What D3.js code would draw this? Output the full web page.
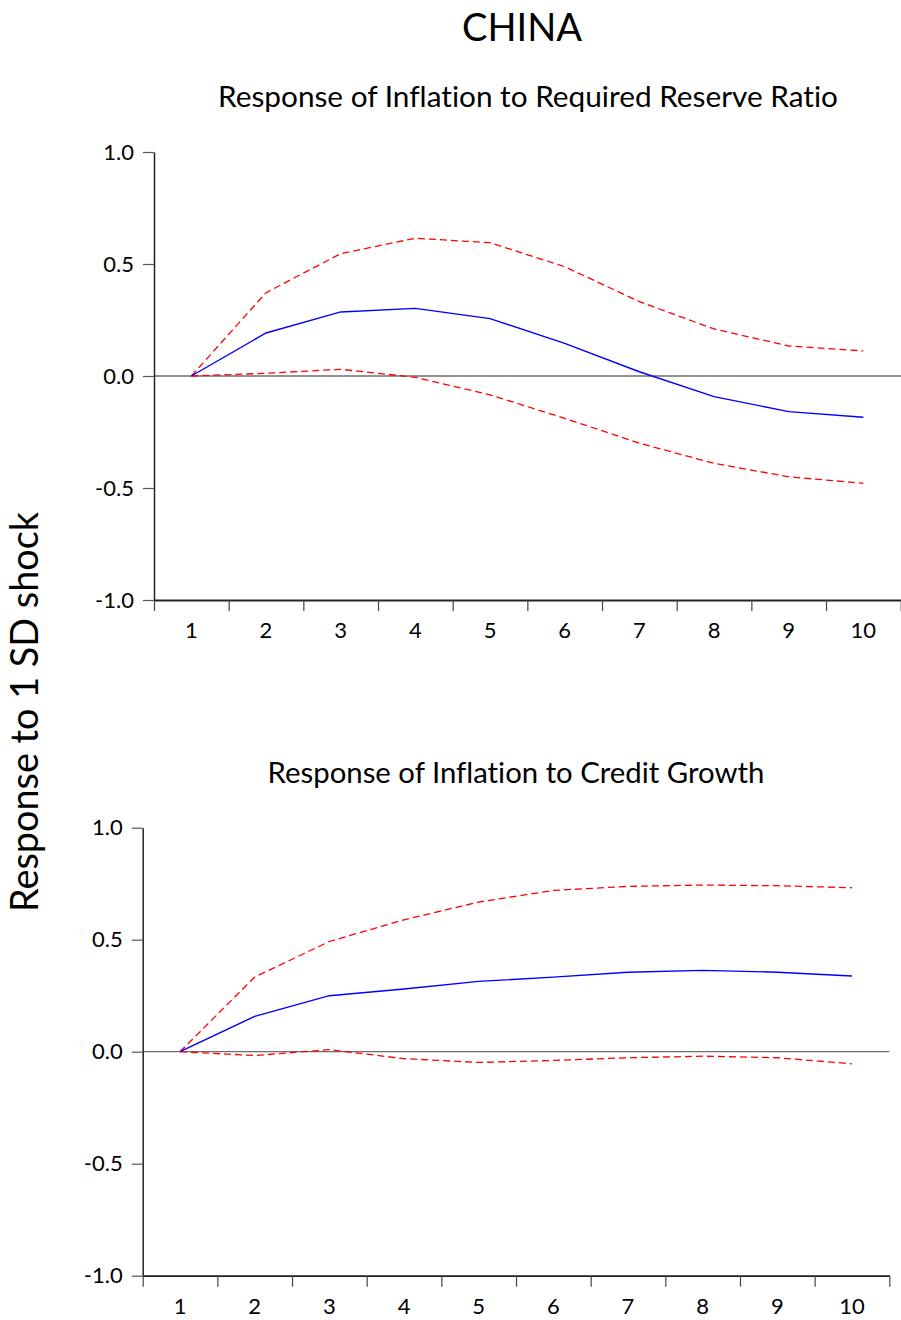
<!DOCTYPE html>
<html>
<head>
<meta charset="utf-8">
<script src="https://cdn.jsdelivr.net/npm/d3@7"></script>
<style>
  html, body { margin: 0; padding: 0; background: #fff; }
  svg { display: block; font-family: Lato, "Noto Sans", sans-serif; font-variant-ligatures: none; }
</style>
</head>
<body>
<svg id="chart" width="901" height="1320"></svg>
<script>
// Impulse response horizons
const periods = [1, 2, 3, 4, 5, 6, 7, 8, 9, 10];
const yTicks = [1.0, 0.5, 0.0, -0.5, -1.0];

// Response of inflation to required reserve ratio shock
const rrrResponse = [0.000, 0.192, 0.286, 0.302, 0.256, 0.146, 0.019, -0.092, -0.159, -0.184];
const rrrUpper    = [0.000, 0.372, 0.546, 0.615, 0.595, 0.488, 0.332, 0.210, 0.134, 0.112];
const rrrLower    = [0.000, 0.012, 0.030, -0.006, -0.084, -0.189, -0.300, -0.390, -0.450, -0.479];

// Response of inflation to credit growth shock
const creditResponse = [0.000, 0.158, 0.250, 0.280, 0.314, 0.333, 0.355, 0.363, 0.355, 0.338];
const creditUpper    = [0.000, 0.333, 0.492, 0.589, 0.668, 0.720, 0.738, 0.744, 0.741, 0.732];
const creditLower    = [0.000, -0.017, 0.009, -0.031, -0.048, -0.039, -0.027, -0.020, -0.027, -0.054];

const panels = [
  { title: "Response of Inflation to Required Reserve Ratio", titleX: 528, titleY: 107, titleW: 620,
    left: 154, right: 900.7, top: 152, bottom: 600, zeroEnd: 901,
    mid: rrrResponse, hi: rrrUpper, lo: rrrLower },
  { title: "Response of Inflation to Credit Growth", titleX: 516, titleY: 783, titleW: 497,
    left: 142.7, right: 889.3, top: 827.7, bottom: 1275.7, zeroEnd: 889.3,
    mid: creditResponse, hi: creditUpper, lo: creditLower }
];

const svg = d3.select("#chart");

// Fit a text element to a given width by adjusting its font size
function fitWidth(sel, width) {
  const node = sel.node();
  const fs = parseFloat(sel.attr("font-size"));
  const w = node.getComputedTextLength();
  if (w > 0) sel.attr("font-size", fs * width / w);
}

const head = svg.append("text")
  .attr("x", 522).attr("y", 41)
  .attr("text-anchor", "middle")
  .attr("font-size", 37)
  .attr("fill", "#000")
  .text("CHINA");
fitWidth(head, 120);

const ylab = svg.append("text")
  .attr("transform", "translate(38,712) rotate(-90)")
  .attr("text-anchor", "middle")
  .attr("font-size", 30)
  .attr("fill", "#000")
  .text("Response to 1 SD shock");
fitWidth(ylab, 400);

panels.forEach(p => {
  const x = d3.scaleBand().domain(periods).range([p.left, p.right]);
  const y = d3.scaleLinear().domain([-1, 1]).range([p.bottom, p.top]);
  const cx = d => x(d) + x.bandwidth() / 2;

  const g = svg.append("g");

  const t = g.append("text")
    .attr("x", p.titleX).attr("y", p.titleY)
    .attr("text-anchor", "middle")
    .attr("font-size", 24)
    .attr("fill", "#000")
    .text(p.title);
  fitWidth(t, p.titleW);

  // zero reference line
  g.append("line")
    .attr("x1", p.left).attr("x2", p.zeroEnd)
    .attr("y1", y(0)).attr("y2", y(0))
    .attr("stroke", "#6e6e6e").attr("stroke-width", 1.3);

  // y axis
  const yAxis = g.append("g")
    .attr("transform", `translate(${p.left},0)`)
    .call(d3.axisLeft(y).tickValues(yTicks).tickFormat(d => d.toFixed(1)).tickSize(11).tickPadding(9).tickSizeOuter(0));
  yAxis.select(".domain").attr("stroke", "#222").attr("stroke-width", 1.5);
  yAxis.selectAll(".tick line").attr("stroke", "#555").attr("stroke-width", 1.2);
  yAxis.selectAll(".tick text").attr("font-size", 22).attr("fill", "#000")
    .attr("font-family", "Lato, 'Noto Sans', sans-serif");

  // x axis with ticks at band boundaries, labels centred in bands
  const xb = d3.scaleLinear().domain([0, periods.length]).range([p.left, p.right]);
  const xAxis = g.append("g")
    .attr("transform", `translate(0,${p.bottom})`)
    .call(d3.axisBottom(xb).tickValues(d3.range(periods.length + 1)).tickSize(11).tickFormat("").tickSizeOuter(0));
  xAxis.select(".domain").attr("stroke", "#222").attr("stroke-width", 1.8);
  xAxis.selectAll(".tick line").attr("stroke", "#444").attr("stroke-width", 1.2);

  g.selectAll(".xlab").data(periods).join("text")
    .attr("class", "xlab")
    .attr("x", d => cx(d))
    .attr("y", p.bottom + 38)
    .attr("text-anchor", "middle")
    .attr("font-size", 22)
    .attr("fill", "#000")
    .text(d => d);

  const line = d3.line().x((v, i) => cx(periods[i])).y(v => y(v));

  [p.hi, p.lo].forEach(band => {
    g.append("path")
      .attr("d", line(band))
      .attr("fill", "none")
      .attr("stroke", "#ff0000")
      .attr("stroke-width", 1.3)
      .attr("stroke-dasharray", "7,4");
  });

  g.append("path")
    .attr("d", line(p.mid))
    .attr("fill", "none")
    .attr("stroke", "#0000ff")
    .attr("stroke-width", 1.4);
});
</script>
</body>
</html>
